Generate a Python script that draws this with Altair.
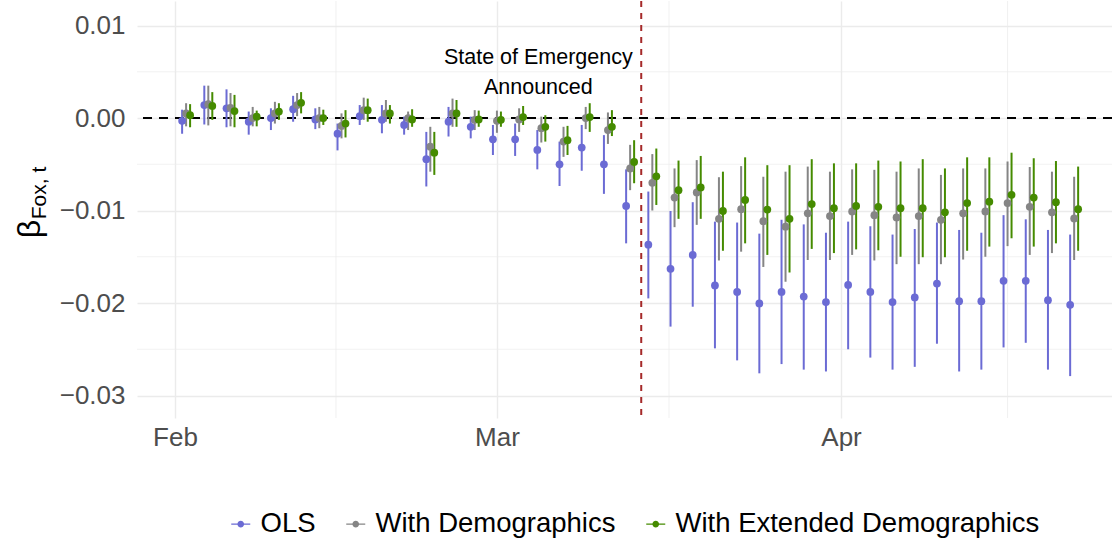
import altair as alt
import pandas as pd

# Estimation dates (every second day)
dates = [
    "2020-02-02", "2020-02-04", "2020-02-06", "2020-02-08", "2020-02-10", "2020-02-12",
    "2020-02-14", "2020-02-16", "2020-02-18", "2020-02-20", "2020-02-22", "2020-02-24",
    "2020-02-26", "2020-02-28", "2020-03-01", "2020-03-03", "2020-03-05", "2020-03-07",
    "2020-03-09", "2020-03-11", "2020-03-13", "2020-03-15", "2020-03-17", "2020-03-19",
    "2020-03-21", "2020-03-23", "2020-03-25", "2020-03-27", "2020-03-29", "2020-03-31",
    "2020-04-02", "2020-04-04", "2020-04-06", "2020-04-08", "2020-04-10", "2020-04-12",
    "2020-04-14", "2020-04-16", "2020-04-18", "2020-04-20", "2020-04-22",
]

series_names = ["OLS", "With Demographics", "With Extended Demographics"]
series_colors = ["#6b6bd4", "#858585", "#458b00"]

ols_est = [-0.0003, 0.0014, 0.00105, -0.0004, 0.0, 0.00095, -0.00015, -0.0017, 0.0002, -0.0002,
           -0.00075, -0.00445, -0.0004, -0.00095, -0.0023, -0.0023, -0.00345, -0.005, -0.0032, -0.005,
           -0.0095, -0.0137, -0.0163, -0.0148, -0.0181, -0.0188, -0.02005, -0.0188, -0.0193, -0.0199,
           -0.01805, -0.0188, -0.0199, -0.0194, -0.0179, -0.0198, -0.0198, -0.0176, -0.0176, -0.0197, -0.0202]
ols_hi = [0.0009, 0.0035, 0.0031, 0.0007, 0.00105, 0.0024, 0.00105, -0.0006, 0.0014, 0.0014,
          0.00015, -0.0015, 0.0012, 0.00015, -0.00075, -0.0006, -0.0013, -0.00255, -0.00075, -0.00185,
          -0.00555, -0.00795, -0.01005, -0.0091, -0.0112, -0.0113, -0.0125, -0.011, -0.0115, -0.0124,
          -0.0112, -0.0117, -0.0126, -0.012, -0.0113, -0.0121, -0.0124, -0.0105, -0.01095, -0.0121, -0.0126]
ols_lo = [-0.0017, -0.0007, -0.001, -0.0018, -0.0013, -0.0004, -0.0012, -0.0035, -0.00075, -0.00165,
          -0.0018, -0.0074, -0.002, -0.0022, -0.004, -0.0041, -0.00555, -0.00735, -0.0057, -0.0082,
          -0.01355, -0.0195, -0.02255, -0.0204, -0.0249, -0.0262, -0.0276, -0.0266, -0.0272, -0.0274,
          -0.025, -0.0259, -0.0272, -0.0269, -0.0244, -0.0274, -0.0272, -0.0248, -0.0243, -0.0272, -0.0279]

demo_est = [0.0005, 0.0015, 0.0011, 0.0, 0.0005, 0.0014, 0.0, -0.00085, 0.00085, 0.0005,
            0.0, -0.0031, 0.0005, -0.0002, -0.0003, -0.00015, -0.0011, -0.00255, 0.0, -0.0013,
            -0.00545, -0.007, -0.0086, -0.00805, -0.0109, -0.00985, -0.01115, -0.01175, -0.0103, -0.0106,
            -0.0101, -0.0105, -0.01075, -0.0106, -0.011, -0.0103, -0.0101, -0.0092, -0.0096, -0.0102, -0.01085]
demo_hi = [0.0016, 0.0035, 0.0027, 0.0012, 0.00175, 0.0027, 0.0012, 0.0005, 0.0022, 0.00195,
           0.0007, -0.00095, 0.0021, 0.00085, 0.0008, 0.00105, 0.00015, -0.00095, 0.0012, 0.0006,
           -0.0029, -0.0039, -0.00545, -0.00455, -0.0064, -0.0052, -0.00635, -0.0058, -0.00525, -0.0058,
           -0.00555, -0.0056, -0.0058, -0.00545, -0.00615, -0.00545, -0.00545, -0.0047, -0.0053, -0.0058, -0.00635]
demo_lo = [-0.0009, -0.0008, -0.0009, -0.0009, -0.0006, 0.0002, -0.0011, -0.0022, -0.0002, -0.0004,
           -0.0013, -0.0058, -0.00095, -0.0013, -0.0016, -0.0015, -0.00265, -0.0042, -0.0012, -0.0028,
           -0.0078, -0.01, -0.0118, -0.01155, -0.0154, -0.01445, -0.0161, -0.0177, -0.01535, -0.01535,
           -0.0148, -0.0154, -0.0158, -0.0158, -0.0158, -0.0153, -0.015, -0.01385, -0.0148, -0.0146, -0.01535]

ext_est = [0.0003, 0.0013, 0.00075, 0.00015, 0.0007, 0.00165, 0.0, -0.0006, 0.00085, 0.0005,
           -0.00015, -0.00375, 0.0005, -0.00015, -0.0002, 0.0001, -0.00095, -0.0024, 0.0001, -0.00095,
           -0.00475, -0.0063, -0.0078, -0.0075, -0.01005, -0.00885, -0.0099, -0.0109, -0.0093, -0.00975,
           -0.0095, -0.0096, -0.00975, -0.00975, -0.0102, -0.0092, -0.00905, -0.0083, -0.0086, -0.0091, -0.00985]
ext_hi = [0.0015, 0.0028, 0.0025, 0.0008, 0.0016, 0.0028, 0.0009, 0.00085, 0.0021, 0.0014,
          0.00095, -0.0015, 0.00195, 0.0008, 0.0007, 0.0013, 0.0003, -0.00085, 0.0016, 0.00085,
          -0.0024, -0.0033, -0.0046, -0.0041, -0.0058, -0.00425, -0.0051, -0.0051, -0.00445, -0.0049,
          -0.0049, -0.0046, -0.0047, -0.00445, -0.00545, -0.00425, -0.00425, -0.00375, -0.00435, -0.00465, -0.00525]
ext_lo = [-0.001, -0.0002, -0.001, -0.0009, -0.0002, 0.0005, -0.00075, -0.0021, -0.0004, -0.0006,
          -0.00095, -0.00615, -0.00095, -0.00095, -0.00095, -0.00075, -0.00255, -0.004, -0.0015, -0.00195,
          -0.00705, -0.0094, -0.0109, -0.0109, -0.01435, -0.01355, -0.0148, -0.0167, -0.01415, -0.0146,
          -0.0142, -0.0143, -0.015, -0.01505, -0.01505, -0.01435, -0.0139, -0.013, -0.0139, -0.01355, -0.01435]

# Horizontal dodge between the three estimators (in days)
dodge_days = [-0.36, 0.0, 0.36]

x_ticks = ["2020-02-01T00:00:00", "2020-03-01T00:00:00", "2020-04-01T00:00:00"]
x_minor = ["2020-02-15T12:00:00", "2020-03-16T12:00:00", "2020-04-16T00:00:00"]
y_ticks = [0.01, 0.0, -0.01, -0.02, -0.03]
y_minor = [0.005, -0.005, -0.015, -0.025]
x_domain = ["2020-01-28T13:50:00", "2020-04-25T09:50:00"]
y_domain = [-0.03243, 0.01265]

emergency_date = "2020-03-14T00:00:00"
note_date = "2020-03-05T00:00:00"
note_y = 0.005
note_text = "State of Emergency\nAnnounced"

rows = []
for name, col, off, est, lo, hi in zip(
    series_names, series_colors, dodge_days,
    [ols_est, demo_est, ext_est], [ols_lo, demo_lo, ext_lo], [ols_hi, demo_hi, ext_hi],
):
    for d, e, l, h in zip(dates, est, lo, hi):
        t = pd.Timestamp(d) + pd.Timedelta(days=off)
        rows.append({"date": t.strftime("%Y-%m-%dT%H:%M:%S"), "series": name, "col": col,
                     "est": e, "lo": l, "hi": h})
df = pd.DataFrame(rows)

x_scale = alt.Scale(domain=x_domain, nice=False)
y_scale = alt.Scale(domain=y_domain, nice=False, zero=False)
color_scale = alt.Scale(domain=series_names, range=series_colors)

# Legend key: a short horizontal line with a dot on it
legend_symbol = ("M-1,-0.06L-0.3449,-0.06A0.35,0.35 0 0,1 0.3449,-0.06L1,-0.06L1,0.06"
                 "L0.3449,0.06A0.35,0.35 0 0,1 -0.3449,0.06L-1,0.06Z")

legend = alt.Legend(
    title=None, orient="none", direction="horizontal", legendX=90, legendY=509,
    symbolType=legend_symbol, symbolSize=361, symbolStrokeWidth=0, symbolOpacity=1,
    labelFontSize=27.5, labelColor="#000000", labelFont="Liberation Sans", labelLimit=0,
    labelOffset=6, columnPadding=26, padding=0,
)

base = alt.Chart(df)

x_enc = alt.X("date:T", scale=x_scale,
              axis=alt.Axis(values=x_ticks, format="%b", title=None, labelPadding=6,
                            labelAlign="center"))
y_enc = alt.Y("est:Q", scale=y_scale,
              axis=alt.Axis(values=y_ticks, format=".2f", title=None, labelPadding=12))

minor_y = alt.Chart(pd.DataFrame({"v": y_minor})).mark_rule(
    color="#ebebeb", strokeWidth=0.7).encode(y=alt.Y("v:Q", scale=y_scale))
minor_x = alt.Chart(pd.DataFrame({"t": x_minor})).mark_rule(
    color="#ebebeb", strokeWidth=0.7).encode(x=alt.X("t:T", scale=x_scale))

zero_line = alt.Chart(pd.DataFrame({"v": [0.0]})).mark_rule(
    color="black", strokeWidth=2, strokeDash=[9, 7]).encode(y=alt.Y("v:Q", scale=y_scale))
event_line = alt.Chart(pd.DataFrame({"t": [emergency_date]})).mark_rule(
    color="#a52a2a", strokeWidth=2, strokeDash=[6, 6]).encode(x=alt.X("t:T", scale=x_scale))

# Confidence intervals take their colour straight from the data, so only the points feed the legend
bars = base.mark_rule(strokeWidth=2).encode(
    x=x_enc,
    y=alt.Y("lo:Q", scale=y_scale),
    y2="hi:Q",
    stroke=alt.Stroke("col:N", scale=None),
)
points = base.mark_circle(size=60, opacity=1).encode(
    x=x_enc,
    y=y_enc,
    color=alt.Color("series:N", scale=color_scale, legend=legend),
)

note = alt.Chart(pd.DataFrame({"t": [note_date], "v": [note_y], "label": [note_text]})).mark_text(
    fontSize=21.5, font="Liberation Sans", color="black", lineBreak="\n", lineHeight=30,
    align="center", baseline="middle", dx=-3, dy=-14,
).encode(x=alt.X("t:T", scale=x_scale), y=alt.Y("v:Q", scale=y_scale), text="label:N")

# Axis title: beta with subscript, drawn as rotated text
title_beta = alt.Chart(pd.DataFrame({"s": ["β"]})).mark_text(
    fontSize=32, font="Liberation Sans", color="black", angle=270,
    align="center", baseline="middle",
).encode(x=alt.value(-107), y=alt.value(228), text="s:N")
title_sub = alt.Chart(pd.DataFrame({"s": ["Fox, t"]})).mark_text(
    fontSize=21, font="Liberation Sans", color="black", angle=270,
    align="center", baseline="middle",
).encode(x=alt.value(-97), y=alt.value(192), text="s:N")

chart = alt.layer(
    minor_y, minor_x, zero_line, event_line, bars, points, note, title_beta, title_sub
).properties(
    width=975, height=417,
    autosize=alt.AutoSizeParams(type="none"),
    padding={"left": 137, "top": 1, "right": 0, "bottom": 125},
    background="white",
).configure_view(stroke=None).configure_axis(
    grid=True, gridColor="#ebebeb", gridWidth=1.4, domain=False, ticks=False,
    labelFont="Liberation Sans", labelFontSize=26, labelColor="#4d4d4d",
)

chart.save("out.html", embed_options={"renderer": "svg", "actions": False})
